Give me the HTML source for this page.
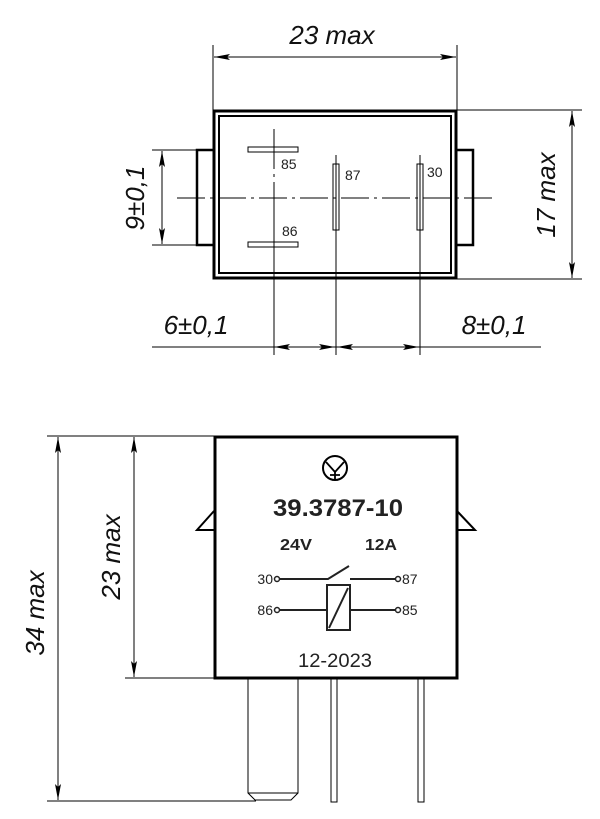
<!DOCTYPE html>
<html><head><meta charset="utf-8"><style>
html,body{margin:0;padding:0;background:#fff;}
svg{display:block}
.d{font-family:"Liberation Sans",sans-serif;font-style:italic;font-size:26px;fill:#111;}
.s{font-family:"Liberation Sans",sans-serif;font-size:14px;fill:#222;}
.b{font-family:"Liberation Sans",sans-serif;font-weight:bold;fill:#222;}
</style></head><body>
<svg width="600" height="819" viewBox="0 0 600 819" xmlns="http://www.w3.org/2000/svg">
<defs>
<marker id="a" viewBox="0 0 16 6" refX="16" refY="3" markerWidth="16" markerHeight="6" markerUnits="userSpaceOnUse" orient="auto-start-reverse"><path d="M0,0 L16,3 L0,6 L3,3z" fill="#000"/></marker>
</defs>
<g stroke="#000" fill="none">
<rect x="214" y="111" width="242" height="167" stroke-width="3"/>
<rect x="219" y="116" width="232" height="157" stroke-width="2"/>
<path d="M213,150 H197 V245 H213 M457,150 H473 V245 H457" stroke-width="2.5"/>
<rect x="248" y="147" width="50" height="5" stroke-width="1"/>
<rect x="248" y="242" width="50" height="5" stroke-width="1"/>
<rect x="333" y="164" width="6" height="66" stroke-width="1"/>
<rect x="417" y="164" width="6" height="66" stroke-width="1"/>
<line x1="177" y1="198" x2="493" y2="198" stroke-width="1" stroke-dasharray="28,5,3,5"/>
<line x1="274" y1="129" x2="274" y2="355" stroke-width="1" stroke-dasharray="40,5,3,5,200"/>
<line x1="336" y1="155" x2="336" y2="355" stroke-width="1"/>
<line x1="420" y1="155" x2="420" y2="355" stroke-width="1"/>
<line x1="213" y1="45" x2="213" y2="110" stroke-width="1"/>
<line x1="457" y1="45" x2="457" y2="110" stroke-width="1"/>
<line x1="214" y1="57" x2="456" y2="57" stroke-width="1" marker-start="url(#a)" marker-end="url(#a)"/>
<line x1="457" y1="110" x2="582" y2="110" stroke-width="1"/>
<line x1="457" y1="279" x2="582" y2="279" stroke-width="1"/>
<line x1="572" y1="111" x2="572" y2="278" stroke-width="1" marker-start="url(#a)" marker-end="url(#a)"/>
<line x1="152" y1="150" x2="197" y2="150" stroke-width="1"/>
<line x1="152" y1="245" x2="197" y2="245" stroke-width="1"/>
<line x1="162" y1="151" x2="162" y2="244" stroke-width="1" marker-start="url(#a)" marker-end="url(#a)"/>
<line x1="152" y1="347" x2="541" y2="347" stroke-width="1"/>
<line x1="290" y1="347" x2="274" y2="347" stroke-width="1" marker-end="url(#a)"/>
<line x1="318" y1="347" x2="335" y2="347" stroke-width="1" marker-end="url(#a)"/>
<line x1="355" y1="347" x2="337" y2="347" stroke-width="1" marker-end="url(#a)"/>
<line x1="400" y1="347" x2="419" y2="347" stroke-width="1" marker-end="url(#a)"/>
<rect x="215" y="437" width="242" height="241" stroke-width="3"/>
<path d="M214,511 L197,530 H214 M457,511 L475,530 H457" stroke-width="2"/>
<path d="M248,679 V793 L255,800 H291 L298,793 V679 M248,793 H298" stroke-width="1"/>
<rect x="331" y="679" width="6" height="123" stroke-width="1"/>
<rect x="418" y="679" width="6" height="123" stroke-width="1"/>
<line x1="47" y1="436" x2="214" y2="436" stroke-width="1"/>
<line x1="125" y1="678" x2="214" y2="678" stroke-width="1"/>
<line x1="47" y1="801" x2="256" y2="801" stroke-width="1"/>
<line x1="58" y1="437" x2="58" y2="800" stroke-width="1" marker-start="url(#a)" marker-end="url(#a)"/>
<line x1="134" y1="437" x2="134" y2="677" stroke-width="1" marker-start="url(#a)" marker-end="url(#a)"/>
<circle cx="335" cy="468" r="12" stroke-width="2"/>
<path d="M326,462 L335,472 L344,462 M335,472 V480 M330,475 H340" stroke-width="1.8"/>
<g stroke="#222" stroke-width="2">
<circle cx="277" cy="579" r="2.5" stroke-width="1.5"/>
<circle cx="277" cy="610" r="2.5" stroke-width="1.5"/>
<circle cx="398" cy="579" r="2.5" stroke-width="1.5"/>
<circle cx="398" cy="610" r="2.5" stroke-width="1.5"/>
<path d="M280,579 H328 L349,566 M350,579 H395 M280,610 H327 M350,610 H395"/>
<rect x="327" y="585" width="23" height="45"/>
<path d="M329,628 L348,588"/>
</g>
</g>
<g class="d">
<text x="332" y="44" text-anchor="middle">23 max</text>
<text transform="translate(555,195) rotate(-90)" text-anchor="middle">17 max</text>
<text transform="translate(144,198) rotate(-90)" text-anchor="middle">9±0,1</text>
<text x="196" y="334" text-anchor="middle">6±0,1</text>
<text x="494" y="334" text-anchor="middle">8±0,1</text>
<text transform="translate(44,613) rotate(-90)" text-anchor="middle">34 max</text>
<text transform="translate(120,557) rotate(-90)" text-anchor="middle">23 max</text>
</g>
<g class="s">
<text x="281" y="169">85</text>
<text x="345" y="180">87</text>
<text x="427" y="177">30</text>
<text x="282" y="236">86</text>
<text x="273" y="584" text-anchor="end">30</text>
<text x="273" y="615" text-anchor="end">86</text>
<text x="402" y="584">87</text>
<text x="402" y="615">85</text>
</g>
<text class="b" x="273" y="516" font-size="24" textLength="130" lengthAdjust="spacingAndGlyphs">39.3787-10</text>
<text class="b" x="280" y="550" font-size="16" textLength="32" lengthAdjust="spacingAndGlyphs">24V</text>
<text class="b" x="365" y="550" font-size="16" textLength="32" lengthAdjust="spacingAndGlyphs">12A</text>
<text x="298" y="667" font-family="Liberation Sans,sans-serif" font-size="19" fill="#222" textLength="74" lengthAdjust="spacingAndGlyphs">12-2023</text>
</svg>
</body></html>
